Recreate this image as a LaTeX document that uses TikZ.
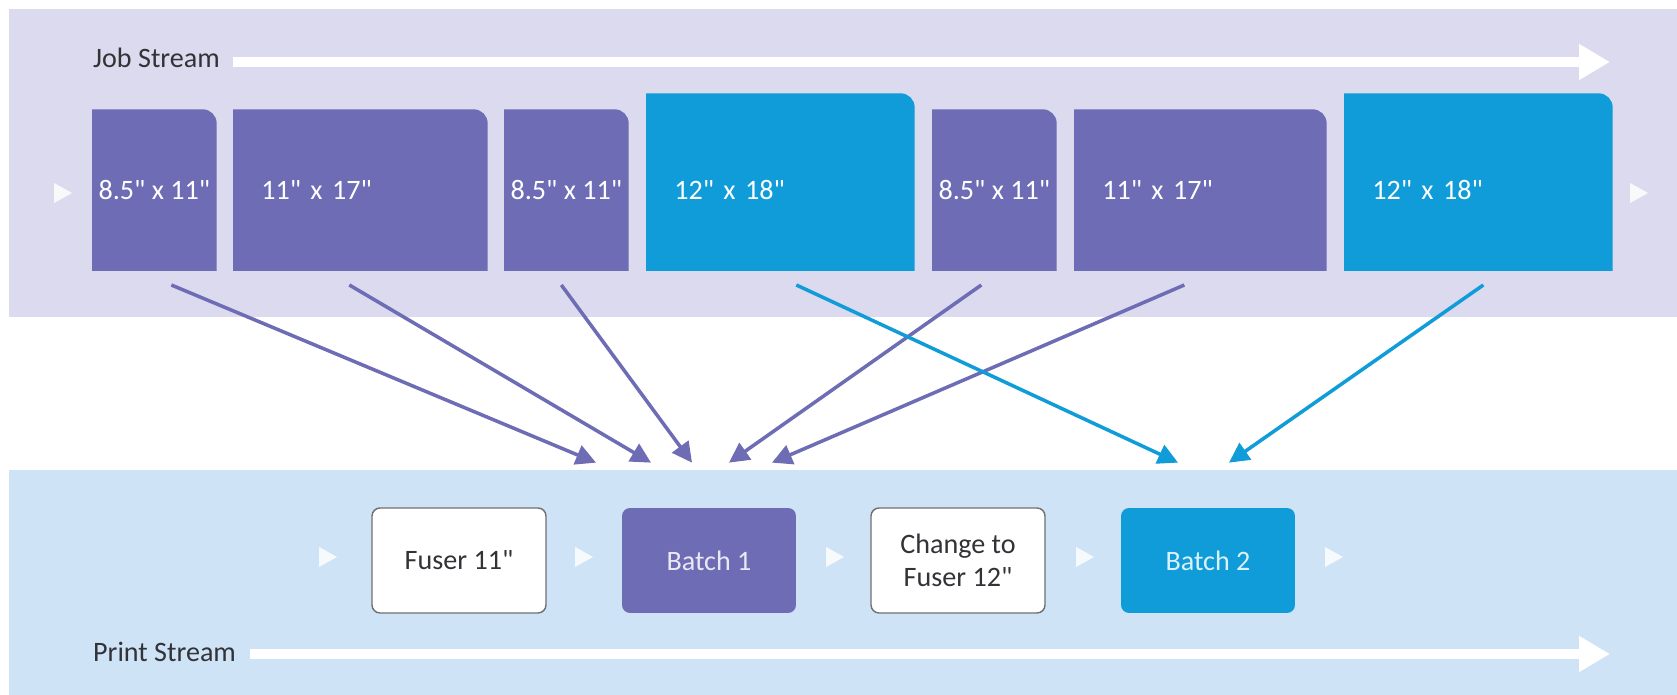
\documentclass[tikz,border=0pt]{standalone}
\usepackage{fontspec}
\setmainfont{Carlito}
\usetikzlibrary{arrows.meta,backgrounds,calc}

\definecolor{jobbg}{RGB}{220,218,239}
\definecolor{printbg}{RGB}{206,227,246}
\definecolor{purp}{RGB}{109,108,180}
\definecolor{cyanbox}{RGB}{16,156,216}
\definecolor{txt}{RGB}{50,50,55}

\newcommand{\inch}{\textquotedbl}

\tikzset{
  sheet/.style={anchor=south west, minimum height=3.22cm, inner sep=0pt, text=white, font=\fontsize{16}{19}\selectfont},
  narrow/.style={sheet, minimum width=2.48cm},
  wide/.style={sheet, text width=#1, inner xsep=0.56cm, align=left},
  stage/.style={minimum width=3.48cm, minimum height=2.1cm, rounded corners=0.16cm, align=center, font=\fontsize{16}{19}\selectfont},
  fuser/.style={stage, fill=white, draw=txt!70, line width=0.8pt, text=txt},
  batch/.style={stage, fill=#1, text=white!85!#1},
  feed/.style={-{Triangle[length=0.4cm,width=0.4cm]}, line width=2pt},
  stream/.style={white, line width=0.2cm, -{Triangle[length=0.62cm,width=0.68cm]}},
  tick/.style={fill=white, opacity=0.85},
  lbl/.style={anchor=base west, text=txt, font=\fontsize{16}{19}\selectfont}
}

\begin{document}
\begin{tikzpicture}[x=0.02cm, y=0.02cm]
    \useasboundingbox (0,0) rectangle (1677,695);

    % Job stream (sheets as they come in)
    \node[lbl] (joblbl) at (87,627) {Job Stream};
    \node[narrow] (j1) at (92,424) {8.5\inch{} x 11\inch};
    \node[wide=3.96cm] (j2) at (233,424) {11\inch{} x 17\inch};
    \node[narrow] (j3) at (504,424) {8.5\inch{} x 11\inch};
    \node[wide=4.24cm] (j4) at (646,424) {12\inch{} x 18\inch};
    \node[narrow] (j5) at (932,424) {8.5\inch{} x 11\inch};
    \node[wide=3.92cm] (j6) at (1074,424) {11\inch{} x 17\inch};
    \node[wide=4.24cm] (j7) at (1344,424) {12\inch{} x 18\inch};

    % Print stream (what the printer does)
    \node[lbl] (printlbl) at (87,33) {Print Stream};
    \node[fuser] (f1) at (459,134.5) {Fuser 11\inch};
    \node[batch=purp] (b1) at (709,134.5) {Batch 1};
    \node[fuser] (f2) at (958,134.5) {Change to\\Fuser 12\inch};
    \node[batch=cyanbox] (b2) at (1208,134.5) {Batch 2};

    % bands and sheet shapes behind the text
    \begin{scope}[on background layer]
        \fill[white] (0,0) rectangle (1677,695);
        \fill[jobbg] (9,378) rectangle (1677,686);
        \fill[printbg] (9,0) rectangle (1677,225);
        \foreach \n/\c/\t in {j1/purp/0, j2/purp/0, j3/purp/0, j4/cyanbox/0.32, j5/purp/0, j6/purp/0, j7/cyanbox/0.32}
            \fill[\c] (\n.south west) -- ([yshift=\t cm]\n.north west)
                -- ([xshift=-0.28cm, yshift=\t cm]\n.north east) arc[start angle=90, end angle=0, radius=0.28cm]
                -- (\n.south east) -- cycle;
    \end{scope}

    % stream arrows
    \coordinate (jobstart) at (233,633);
    \coordinate (jobend) at (1610,633);
    \coordinate (printstart) at (250,41);
    \coordinate (printend) at (1610,41);
    \draw[stream] (jobstart) -- (jobend);
    \draw[stream] (printstart) -- (printend);

    % small flow marks
    \foreach \x/\y in {54/502, 1630/502, 319/138, 575/138, 826/138, 1076/138, 1325/138}
        \fill[tick] (\x,\y+10) -- (\x+18,\y) -- (\x,\y-10) -- cycle;

    % sheets sorted into batches
    \draw[feed, purp] ($(j1.south)+(17,-14)$) -- ($(b1.north)+(-113,45)$);
    \draw[feed, purp] ($(j2.south)+(-11,-14)$) -- ($(b1.north)+(-58,45)$);
    \draw[feed, purp] ($(j3.south)+(-5,-14)$) -- ($(b1.north)+(-17,45)$);
    \draw[feed, purp] ($(j5.south)+(-13,-14)$) -- ($(b1.north)+(20,45)$);
    \draw[feed, purp] ($(j6.south)+(-16,-14)$) -- ($(b1.north)+(63,45)$);
    \draw[feed, cyanbox] ($(j4.south)+(16,-14)$) -- ($(b2.north)+(-30,45)$);
    \draw[feed, cyanbox] ($(j7.south)+(5,-14)$) -- ($(b2.north)+(21,45)$);

\end{tikzpicture}
\end{document}
